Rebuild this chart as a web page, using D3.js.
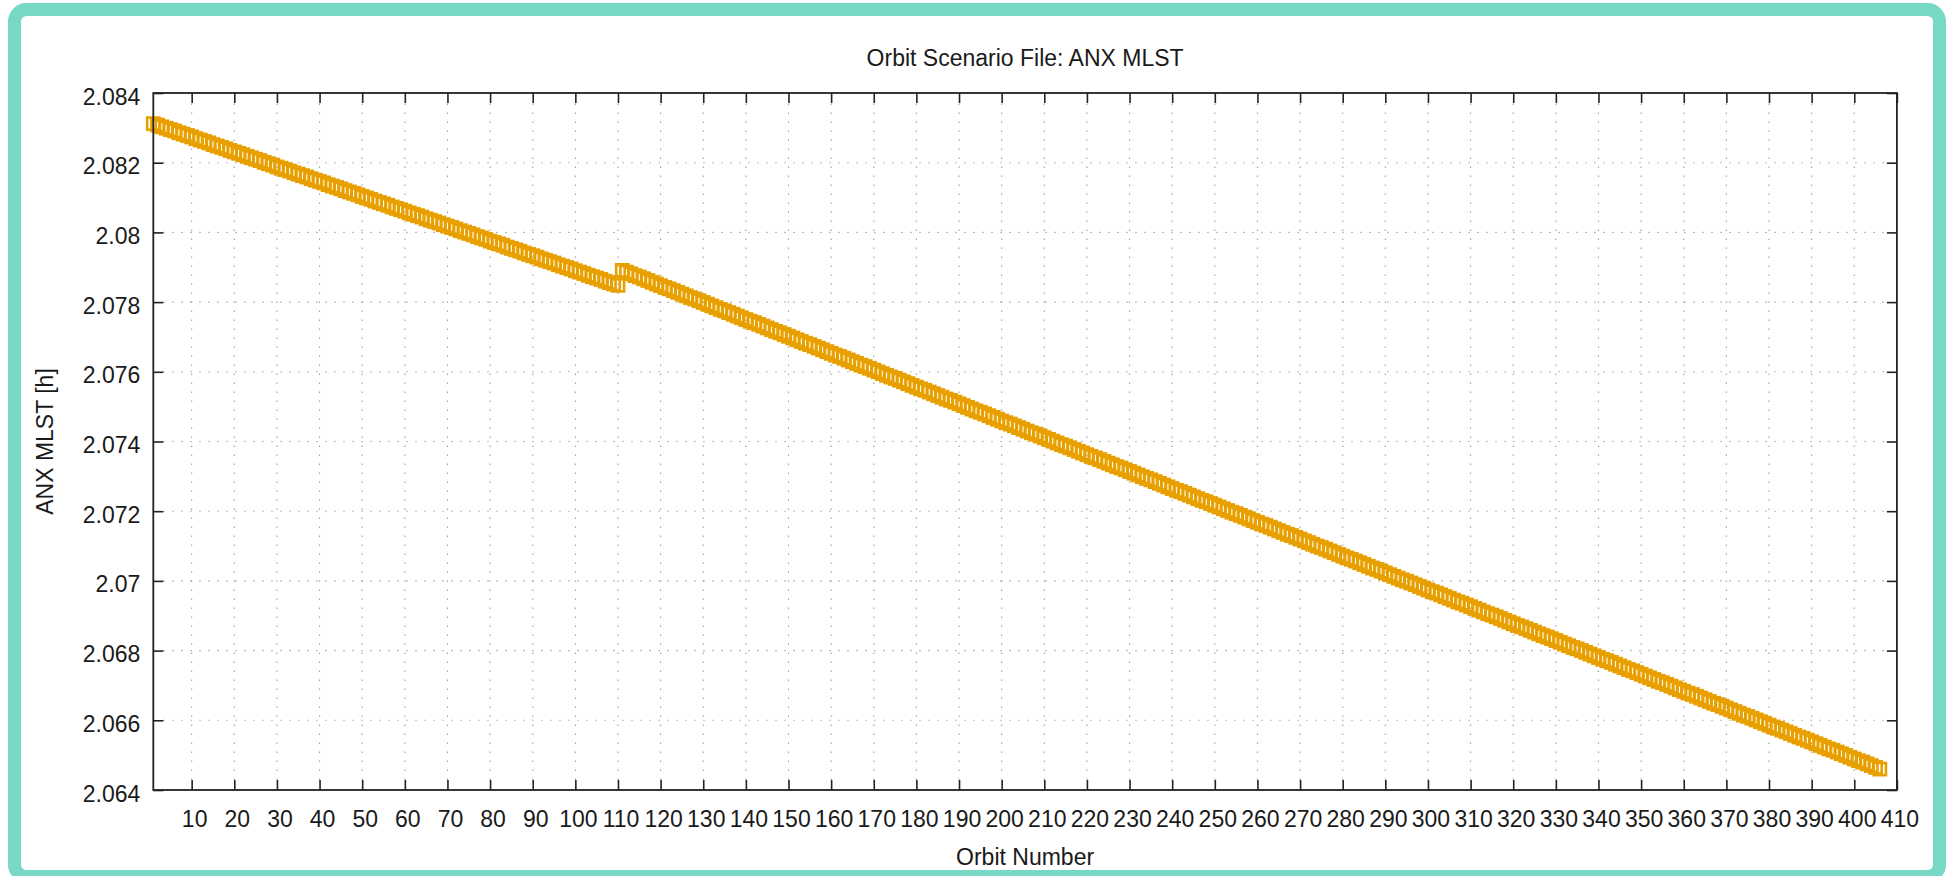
<!DOCTYPE html>
<html><head><meta charset="utf-8">
<script src="https://cdn.jsdelivr.net/npm/d3@7"></script>
<style>
html,body{margin:0;padding:0;background:#fff;}
svg{display:block;}
text{font-family:"Liberation Sans",Arial,Helvetica,sans-serif;fill:#1a1a1a;}
</style>
</head><body>
<svg id="chart" width="1949" height="876"></svg>
<script>
const chartTitle = "Orbit Scenario File: ANX MLST";
const xAxisTitle = "Orbit Number";
const yAxisTitle = "ANX MLST [h]";
const xTickValues = [10,20,30,40,50,60,70,80,90,100,110,120,130,140,150,160,170,180,190,200,210,220,230,240,250,260,270,280,290,300,310,320,330,340,350,360,370,380,390,400,410];
const yTickValues = [2.064,2.066,2.068,2.07,2.072,2.074,2.076,2.078,2.08,2.082,2.084];
const yTickLabels = ["2.064","2.066","2.068","2.07","2.072","2.074","2.076","2.078","2.08","2.082","2.084"];
const xDomain = [1, 410];
const yDomain = [2.064, 2.084];
// first orbit number of each segment (segments separated by the jump near orbit 110)
const segmentFirstOrbit = [1, 111];
const mlstSegment1 = [
2.08312,2.08308,2.08303,2.08299,2.08295,2.08291,2.08286,2.08282,2.08278,2.08274,
2.08269,2.08265,2.08261,2.08257,2.08252,2.08248,2.08244,2.08240,2.08235,2.08231,
2.08227,2.08223,2.08218,2.08214,2.08210,2.08206,2.08201,2.08197,2.08193,2.08188,
2.08184,2.08180,2.08176,2.08171,2.08167,2.08163,2.08159,2.08154,2.08150,2.08146,
2.08142,2.08137,2.08133,2.08129,2.08125,2.08120,2.08116,2.08112,2.08108,2.08103,
2.08099,2.08095,2.08090,2.08086,2.08082,2.08078,2.08073,2.08069,2.08065,2.08061,
2.08056,2.08052,2.08048,2.08044,2.08039,2.08035,2.08031,2.08027,2.08022,2.08018,
2.08014,2.08010,2.08005,2.08001,2.07997,2.07993,2.07988,2.07984,2.07980,2.07975,
2.07971,2.07967,2.07963,2.07958,2.07954,2.07950,2.07946,2.07941,2.07937,2.07933,
2.07929,2.07924,2.07920,2.07916,2.07912,2.07907,2.07903,2.07899,2.07895,2.07890,
2.07886,2.07882,2.07877,2.07873,2.07869,2.07865,2.07860,2.07856,2.07852,2.07848];
const mlstSegment2 = [
2.07891,2.07886,2.07881,2.07876,2.07872,2.07867,2.07862,2.07857,2.07852,2.07847,
2.07842,2.07838,2.07833,2.07828,2.07823,2.07818,2.07813,2.07809,2.07804,2.07799,
2.07794,2.07789,2.07784,2.07779,2.07775,2.07770,2.07765,2.07760,2.07755,2.07750,
2.07745,2.07741,2.07736,2.07731,2.07726,2.07721,2.07716,2.07712,2.07707,2.07702,
2.07697,2.07692,2.07687,2.07682,2.07678,2.07673,2.07668,2.07663,2.07658,2.07653,
2.07648,2.07644,2.07639,2.07634,2.07629,2.07624,2.07619,2.07615,2.07610,2.07605,
2.07600,2.07595,2.07590,2.07585,2.07581,2.07576,2.07571,2.07566,2.07561,2.07556,
2.07551,2.07547,2.07542,2.07537,2.07532,2.07527,2.07522,2.07518,2.07513,2.07508,
2.07503,2.07498,2.07493,2.07488,2.07484,2.07479,2.07474,2.07469,2.07464,2.07459,
2.07454,2.07450,2.07445,2.07440,2.07435,2.07430,2.07425,2.07421,2.07416,2.07411,
2.07406,2.07401,2.07396,2.07391,2.07387,2.07382,2.07377,2.07372,2.07367,2.07362,
2.07357,2.07353,2.07348,2.07343,2.07338,2.07333,2.07328,2.07324,2.07319,2.07314,
2.07309,2.07304,2.07299,2.07294,2.07290,2.07285,2.07280,2.07275,2.07270,2.07265,
2.07260,2.07256,2.07251,2.07246,2.07241,2.07236,2.07231,2.07227,2.07222,2.07217,
2.07212,2.07207,2.07202,2.07197,2.07193,2.07188,2.07183,2.07178,2.07173,2.07168,
2.07163,2.07159,2.07154,2.07149,2.07144,2.07139,2.07134,2.07130,2.07125,2.07120,
2.07115,2.07110,2.07105,2.07100,2.07096,2.07091,2.07086,2.07081,2.07076,2.07071,
2.07066,2.07062,2.07057,2.07052,2.07047,2.07042,2.07037,2.07033,2.07028,2.07023,
2.07018,2.07013,2.07008,2.07003,2.06999,2.06994,2.06989,2.06984,2.06979,2.06974,
2.06969,2.06965,2.06960,2.06955,2.06950,2.06945,2.06940,2.06936,2.06931,2.06926,
2.06921,2.06916,2.06911,2.06906,2.06902,2.06897,2.06892,2.06887,2.06882,2.06877,
2.06872,2.06868,2.06863,2.06858,2.06853,2.06848,2.06843,2.06839,2.06834,2.06829,
2.06824,2.06819,2.06814,2.06809,2.06805,2.06800,2.06795,2.06790,2.06785,2.06780,
2.06775,2.06771,2.06766,2.06761,2.06756,2.06751,2.06746,2.06742,2.06737,2.06732,
2.06727,2.06722,2.06717,2.06712,2.06708,2.06703,2.06698,2.06693,2.06688,2.06683,
2.06678,2.06674,2.06669,2.06664,2.06659,2.06654,2.06649,2.06645,2.06640,2.06635,
2.06630,2.06625,2.06620,2.06615,2.06611,2.06606,2.06601,2.06596,2.06591,2.06586,
2.06581,2.06577,2.06572,2.06567,2.06562,2.06557,2.06552,2.06548,2.06543,2.06538,
2.06533,2.06528,2.06523,2.06518,2.06514,2.06509,2.06504,2.06499,2.06494,2.06489,
2.06484,2.06480,2.06475,2.06470,2.06465,2.06460];

(function () {
const points = [];
[mlstSegment1, mlstSegment2].forEach((seg, s) => {
  seg.forEach((v, i) => points.push({orbit: segmentFirstOrbit[s] + i, mlst: v}));
});

const svg = d3.select("#chart");
const L = 153.3, R = 1896.9, T = 93, B = 790;
const FONT = 23;

// outer rounded teal frame
svg.append("rect").attr("x", 14.5).attr("y", 9.5).attr("width", 1925).attr("height", 867)
  .attr("rx", 12).attr("fill", "#fff").attr("stroke", "#77d8c5").attr("stroke-width", 13);

const x = d3.scaleLinear().domain(xDomain).range([L, R]);
const y = d3.scaleLinear().domain(yDomain).range([B, T]);

// grid
const grid = svg.append("g").attr("stroke", "#a0a0a0").attr("stroke-width", 1.1).attr("stroke-dasharray", "1.4,7.6");
grid.selectAll("line.vx").data(xTickValues.filter(d => d < xDomain[1])).enter().append("line")
  .attr("x1", d => x(d)).attr("x2", d => x(d)).attr("y1", B - 10).attr("y2", T + 10);
grid.selectAll("line.hy").data(yTickValues.filter(d => d > yDomain[0] && d < yDomain[1])).enter().append("line")
  .attr("y1", d => y(d)).attr("y2", d => y(d)).attr("x1", L + 10).attr("x2", R - 10);

// data markers: open squares
const S = 12.2;
svg.append("g").selectAll("rect").data(points).enter().append("rect")
  .attr("x", d => x(d.orbit) - S / 2).attr("y", d => y(d.mlst) - S / 2)
  .attr("width", S).attr("height", S)
  .attr("fill", "none").attr("stroke", "#e8a000").attr("stroke-width", 2.6);

// axes
const axisColor = "#222";
const gBottom = svg.append("g").attr("transform", `translate(0,${B})`)
  .call(d3.axisBottom(x).tickValues(xTickValues).tickSize(-10).tickPadding(21).tickFormat(d3.format("d")));
gBottom.selectAll("text").attr("font-size", FONT).attr("dx", 2.5);
const gTop = svg.append("g").attr("transform", `translate(0,${T})`)
  .call(d3.axisTop(x).tickValues(xTickValues).tickSize(-10).tickFormat(""));
const gLeft = svg.append("g").attr("transform", `translate(${L},0)`)
  .call(d3.axisLeft(y).tickValues(yTickValues).tickSize(-10).tickPadding(13)
    .tickFormat((d, i) => yTickLabels[i]));
gLeft.selectAll("text").attr("font-size", FONT).attr("dy", "0.48em");
const gRight = svg.append("g").attr("transform", `translate(${R},0)`)
  .call(d3.axisRight(y).tickValues(yTickValues).tickSize(-10).tickFormat(""));
[gBottom, gTop, gLeft, gRight].forEach(g => {
  g.select(".domain").remove();
  g.selectAll("line").attr("stroke", axisColor).attr("stroke-width", 1.6);
  g.selectAll("text").attr("fill", "#1a1a1a").attr("font-family", '"Liberation Sans",Arial,sans-serif');
});

// frame
svg.append("rect").attr("x", L).attr("y", T).attr("width", R - L).attr("height", B - T)
  .attr("fill", "none").attr("stroke", axisColor).attr("stroke-width", 1.8);

// titles
svg.append("text").attr("x", (L + R) / 2).attr("y", 66).attr("text-anchor", "middle")
  .attr("font-size", FONT).text(chartTitle);
svg.append("text").attr("x", (L + R) / 2).attr("y", 865).attr("text-anchor", "middle")
  .attr("font-size", FONT).text(xAxisTitle);
svg.append("text").attr("transform", `translate(53,${(T + B) / 2}) rotate(-90)`).attr("text-anchor", "middle")
  .attr("font-size", FONT).text(yAxisTitle);
})();
</script>
</body></html>
